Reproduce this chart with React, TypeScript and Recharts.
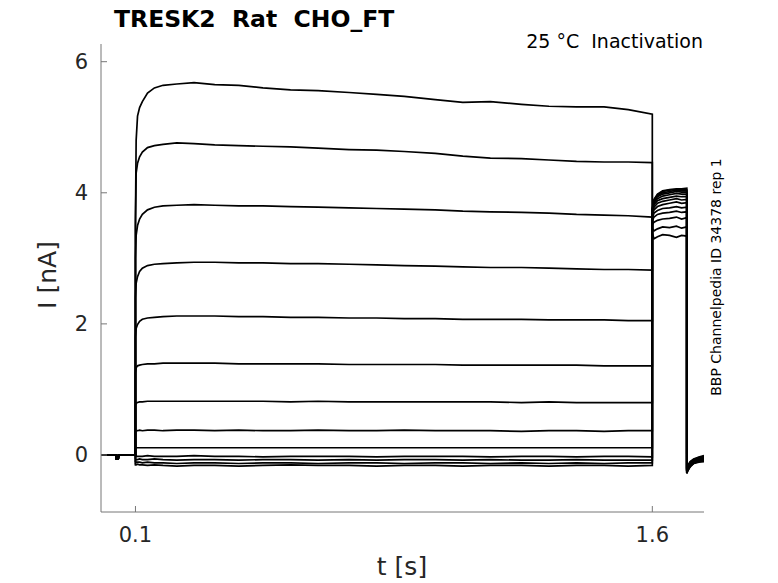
import { LineChart, Line, XAxis, YAxis } from 'recharts';

// time base (s): holding, prepulse, test pulse, return
const HOLD_T = [0, 0.044, 0.045, 0.05, 0.051, 0.1];
const STEP_T = [
  0.1, 0.102, 0.106, 0.112, 0.12, 0.135, 0.155, 0.18, 0.22, 0.27, 0.33, 0.4, 0.47, 0.55,
  0.63, 0.72, 0.8, 0.88, 0.97, 1.05, 1.13, 1.22, 1.3, 1.38, 1.46, 1.53, 1.6,
];
const TAIL_T = [1.6, 1.605, 1.615, 1.63, 1.65, 1.67, 1.685, 1.7];
const END_T = [1.7, 1.703, 1.71, 1.72, 1.735, 1.75];

// current (nA) during holding, same for every sweep
const HOLD_I = [0, 0, -0.06, -0.06, 0, 0];

// one sweep per array: prepulse (27) | test pulse (8) | return (6)
const SWEEP_1 = [
  3.6, 4.8, 5.17, 5.3, 5.39, 5.52, 5.6, 5.64, 5.66, 5.68, 5.65, 5.64, 5.6, 5.57, 5.56, 5.53, 5.5, 5.47, 5.42, 5.38, 5.39, 5.35, 5.32, 5.31, 5.31, 5.27, 5.2,
  3.38, 3.3, 3.33, 3.36, 3.35, 3.32, 3.35, 3.34,
  -0.2, -0.16, -0.1, -0.06, -0.03, -0.01,
];
const SWEEP_2 = [
  3.5, 4.3, 4.45, 4.55, 4.62, 4.69, 4.72, 4.74, 4.76, 4.75, 4.73, 4.72, 4.71, 4.7, 4.68, 4.66, 4.65, 4.63, 4.6, 4.56, 4.53, 4.52, 4.5, 4.48, 4.47, 4.47, 4.46,
  3.45, 3.42, 3.45, 3.48, 3.47, 3.49, 3.46, 3.48,
  -0.21, -0.17, -0.11, -0.07, -0.04, -0.02,
];
const SWEEP_3 = [
  3.0, 3.35, 3.5, 3.6, 3.67, 3.74, 3.78, 3.8, 3.81, 3.82, 3.81, 3.8, 3.8, 3.79, 3.78, 3.77, 3.76, 3.75, 3.74, 3.72, 3.71, 3.7, 3.69, 3.67, 3.66, 3.65, 3.63,
  3.52, 3.55, 3.58, 3.6, 3.61, 3.63, 3.6, 3.62,
  -0.22, -0.18, -0.12, -0.08, -0.05, -0.03,
];
const SWEEP_4 = [
  2.4, 2.62, 2.72, 2.8, 2.85, 2.89, 2.91, 2.92, 2.93, 2.94, 2.94, 2.93, 2.93, 2.92, 2.92, 2.91, 2.9, 2.89, 2.88, 2.87, 2.86, 2.86, 2.85, 2.84, 2.83, 2.83, 2.82,
  3.58, 3.63, 3.67, 3.69, 3.7, 3.72, 3.7, 3.71,
  -0.22, -0.19, -0.13, -0.09, -0.06, -0.04,
];
const SWEEP_5 = [
  1.8, 1.93, 1.99, 2.04, 2.07, 2.09, 2.1, 2.11, 2.12, 2.12, 2.12, 2.11, 2.11, 2.1, 2.1, 2.09, 2.09, 2.08, 2.08, 2.07, 2.07, 2.07, 2.06, 2.06, 2.06, 2.05, 2.05,
  3.62, 3.69, 3.73, 3.76, 3.77, 3.79, 3.77, 3.78,
  -0.23, -0.19, -0.13, -0.09, -0.06, -0.05,
];
const SWEEP_6 = [
  1.25, 1.33, 1.36, 1.37, 1.38, 1.39, 1.39, 1.4, 1.4, 1.4, 1.4, 1.39, 1.39, 1.39, 1.39, 1.38, 1.38, 1.38, 1.38, 1.37, 1.37, 1.37, 1.37, 1.37, 1.36, 1.36, 1.36,
  3.66, 3.74, 3.79, 3.82, 3.84, 3.86, 3.84, 3.85,
  -0.24, -0.2, -0.14, -0.1, -0.07, -0.05,
];
const SWEEP_7 = [
  0.76, 0.79, 0.8, 0.81, 0.81, 0.82, 0.82, 0.82, 0.82, 0.82, 0.82, 0.82, 0.82, 0.81, 0.82, 0.81, 0.81, 0.81, 0.81, 0.81, 0.81, 0.8, 0.81, 0.8, 0.8, 0.8, 0.8,
  3.68, 3.78, 3.84, 3.87, 3.89, 3.91, 3.89, 3.9,
  -0.24, -0.2, -0.14, -0.1, -0.07, -0.06,
];
const SWEEP_8 = [
  0.35, 0.37, 0.37, 0.38, 0.37, 0.38, 0.38, 0.37, 0.38, 0.38, 0.37, 0.38, 0.37, 0.37, 0.38, 0.37, 0.37, 0.38, 0.37, 0.37, 0.37, 0.36, 0.37, 0.37, 0.36, 0.37, 0.37,
  3.7, 3.82, 3.88, 3.91, 3.93, 3.95, 3.94, 3.94,
  -0.25, -0.21, -0.15, -0.11, -0.08, -0.06,
];
const SWEEP_9 = [
  0.1, 0.11, 0.11, 0.11, 0.11, 0.11, 0.11, 0.11, 0.11, 0.11, 0.11, 0.11, 0.11, 0.11, 0.11, 0.11, 0.11, 0.11, 0.11, 0.11, 0.11, 0.11, 0.11, 0.11, 0.11, 0.11, 0.11,
  3.72, 3.85, 3.91, 3.95, 3.97, 3.99, 3.98, 3.98,
  -0.25, -0.21, -0.15, -0.11, -0.08, -0.07,
];
const SWEEP_10 = [
  -0.03, -0.02, -0.02, -0.02, -0.02, -0.01, -0.02, -0.02, -0.02, -0.01, -0.02, -0.02, -0.03, -0.02, -0.02, -0.02, -0.03, -0.02, -0.02, -0.02, -0.03, -0.02, -0.02, -0.03, -0.02, -0.02, -0.03,
  3.73, 3.87, 3.94, 3.98, 4.0, 4.02, 4.01, 4.01,
  -0.26, -0.22, -0.16, -0.12, -0.09, -0.07,
];
const SWEEP_11 = [
  -0.08, -0.07, -0.07, -0.06, -0.07, -0.07, -0.06, -0.07, -0.08, -0.07, -0.07, -0.08, -0.07, -0.07, -0.08, -0.07, -0.08, -0.07, -0.07, -0.08, -0.07, -0.08, -0.08, -0.07, -0.08, -0.08, -0.08,
  3.74, 3.88, 3.96, 4.0, 4.02, 4.04, 4.03, 4.03,
  -0.27, -0.23, -0.17, -0.12, -0.1, -0.08,
];
const SWEEP_12 = [
  -0.12, -0.11, -0.11, -0.11, -0.12, -0.11, -0.12, -0.12, -0.13, -0.12, -0.12, -0.13, -0.12, -0.12, -0.13, -0.12, -0.12, -0.13, -0.12, -0.12, -0.13, -0.12, -0.13, -0.12, -0.13, -0.12, -0.12,
  3.75, 3.89, 3.97, 4.02, 4.04, 4.05, 4.05, 4.05,
  -0.28, -0.24, -0.17, -0.13, -0.1, -0.09,
];
const SWEEP_13 = [
  -0.15, -0.15, -0.14, -0.15, -0.15, -0.16, -0.15, -0.16, -0.17, -0.16, -0.16, -0.17, -0.16, -0.15, -0.16, -0.16, -0.17, -0.16, -0.16, -0.17, -0.16, -0.16, -0.17, -0.16, -0.16, -0.17, -0.16,
  3.76, 3.9, 3.98, 4.03, 4.05, 4.06, 4.06, 4.07,
  -0.28, -0.24, -0.18, -0.13, -0.11, -0.1,
];

const SWEEPS = [
  SWEEP_1, SWEEP_2, SWEEP_3, SWEEP_4, SWEEP_5, SWEEP_6, SWEEP_7,
  SWEEP_8, SWEEP_9, SWEEP_10, SWEEP_11, SWEEP_12, SWEEP_13,
];

const Y_TICKS = [0, 2, 4, 6];
const X_TICKS = [0.1, 1.6];

const TIME = [...HOLD_T, ...STEP_T, ...TAIL_T, ...END_T];
const ROWS = TIME.map((t, i) => {
  const row: Record<string, number> = { t };
  SWEEPS.forEach((s, k) => {
    row[`s${k}`] = [...HOLD_I, ...s][i];
  });
  return row;
});

const FONT = '"DejaVu Sans", sans-serif';
const TICK = { fontSize: 21, fill: '#262626', fontFamily: FONT };

export default function App() {
  return (
    <div style={{ position: 'absolute', left: 0, top: 0, width: 778, height: 583, background: '#fff' }}>
      <LineChart width={778} height={583} data={ROWS} margin={{ top: 44, right: 74, bottom: 31, left: 41 }}>
        <XAxis
          dataKey="t"
          type="number"
          domain={[0, 1.75]}
          ticks={X_TICKS}
          height={40}
          tickSize={-6}
          tickMargin={21}
          stroke="#777"
          tick={TICK}
          allowDataOverflow
        />
        <YAxis
          type="number"
          domain={[-0.87, 6.27]}
          ticks={Y_TICKS}
          width={60}
          tickSize={-6}
          tickMargin={19}
          stroke="#777"
          tick={TICK}
          allowDataOverflow
        />
        {SWEEPS.map((_, k) => (
          <Line
            key={k}
            dataKey={`s${k}`}
            type="linear"
            stroke="#000"
            strokeWidth={1.7}
            dot={false}
            isAnimationActive={false}
          />
        ))}
      </LineChart>
      <svg width={778} height={583} style={{ position: 'absolute', left: 0, top: 0, pointerEvents: 'none' }}>
        <text x={114} y={27} fontFamily={FONT} fontWeight="bold" fontSize={23.5} fill="#000" style={{ whiteSpace: 'pre' }}>
          TRESK2  Rat  CHO_FT
        </text>
        <text x={703} y={48} textAnchor="end" fontFamily={FONT} fontSize={19} fill="#000" style={{ whiteSpace: 'pre' }}>
          25 °C  Inactivation
        </text>
        <text x={402} y={575} textAnchor="middle" fontFamily={FONT} fontSize={25} fill="#262626">
          t [s]
        </text>
        <text x={56} y={275} textAnchor="middle" fontFamily={FONT} fontSize={25} fill="#262626" transform="rotate(-90 56 275)">
          I [nA]
        </text>
        <text x={721} y={277} textAnchor="middle" fontFamily={FONT} fontSize={14} fill="#000" transform="rotate(-90 721 277)">
          BBP Channelpedia ID 34378 rep 1
        </text>
      </svg>
    </div>
  );
}
